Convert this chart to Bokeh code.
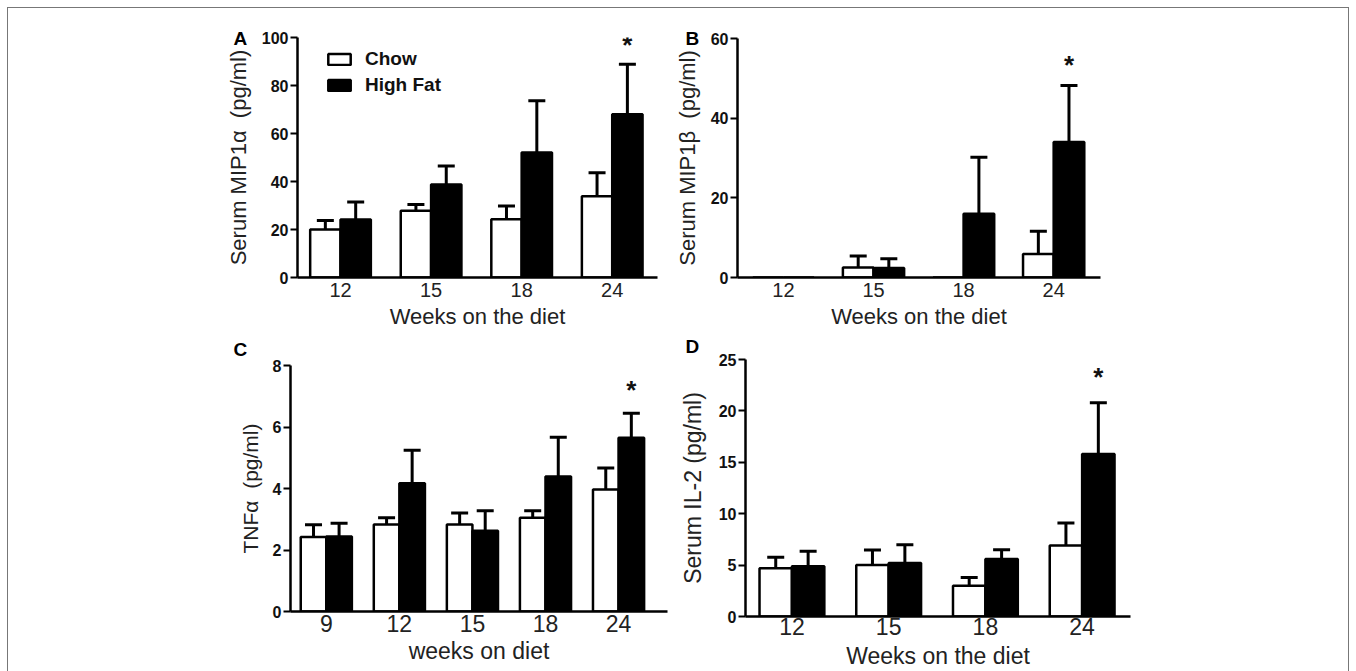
from bokeh.plotting import figure
from bokeh.layouts import row, column
from bokeh.models import FixedTicker, Label, Legend, LegendItem, Range1d, Title
from bokeh.embed import file_html
from bokeh.resources import INLINE

FONT = "Liberation Sans"

# ---------------- data ----------------
# Panel A: serum MIP1alpha
a_weeks = ["12", "15", "18", "24"]
a_chow = [20.0, 27.8, 24.3, 33.9]
a_chow_sem = [3.8, 2.6, 5.5, 9.7]
a_hf = [24.2, 38.7, 52.1, 68.0]
a_hf_sem = [7.3, 7.8, 21.5, 20.9]
a_yticks = [0, 20, 40, 60, 80, 100]
a_star = 96.8

# Panel B: serum MIP1beta
b_weeks = ["12", "15", "18", "24"]
b_chow = [0.0, 2.5, 0.0, 5.9]
b_chow_sem = [0.0, 2.9, 0.0, 5.7]
b_hf = [0.0, 2.4, 16.0, 34.0]
b_hf_sem = [0.0, 2.3, 14.2, 14.2]
b_yticks = [0, 20, 40, 60]
b_star = 53.3

# Panel C: TNFalpha
c_weeks = ["9", "12", "15", "18", "24"]
c_chow = [2.42, 2.83, 2.83, 3.05, 3.97]
c_chow_sem = [0.40, 0.22, 0.37, 0.23, 0.70]
c_hf = [2.44, 4.17, 2.63, 4.39, 5.65]
c_hf_sem = [0.43, 1.07, 0.65, 1.28, 0.80]
c_yticks = [0, 2, 4, 6, 8]
c_star = 7.2

# Panel D: serum IL-2
d_weeks = ["12", "15", "18", "24"]
d_chow = [4.7, 5.0, 3.0, 6.9]
d_chow_sem = [1.06, 1.48, 0.8, 2.2]
d_hf = [4.9, 5.2, 5.6, 15.8]
d_hf_sem = [1.44, 1.77, 0.9, 5.0]
d_yticks = [0, 5, 10, 15, 20, 25]
d_star = 23.3


def panel(weeks, chow, chow_sem, hf, hf_sem, yticks, star_y, ylabel, xlabel, letter,
          width, height, mbl, mbr, mbt, mbb, xr, bar_w, letter_offset, letter_standoff,
          letter_valign, xtick_size, xlabel_size, ylabel_size, ytick_size="16px",
          ylab_standoff=8, xtick_standoff=3, xlab_standoff=3, legend=False):
    p = figure(width=width, height=height, output_backend="svg", toolbar_location=None,
               min_border_left=mbl, min_border_right=mbr, min_border_top=mbt,
               min_border_bottom=mbb, x_range=Range1d(xr[0], xr[1]),
               y_range=Range1d(0, yticks[-1]))
    p.outline_line_color = None
    p.xgrid.visible = False
    p.ygrid.visible = False
    p.background_fill_color = "white"
    p.border_fill_color = "white"

    n = len(weeks)
    idx = list(range(n))
    off = bar_w / 2
    frame_w = width - mbl - mbr
    ppu = frame_w / (xr[1] - xr[0])
    cap = 8.5 / ppu

    xc = [i - off for i in idx]
    xh = [i + off for i in idx]
    r_chow = p.vbar(x=xc, top=chow, width=bar_w, bottom=0, fill_color="white",
                    line_color="black", line_width=2.5)
    r_hf = p.vbar(x=xh, top=hf, width=bar_w, bottom=0, fill_color="black",
                  line_color="black", line_width=2.5)

    for xs, means, sems in ((xc, chow, chow_sem), (xh, hf, hf_sem)):
        ex = [x for x, s in zip(xs, sems) if s > 0]
        em = [m for m, s in zip(means, sems) if s > 0]
        eu = [m + s for m, s in zip(means, sems) if s > 0]
        p.segment(x0=ex, y0=em, x1=ex, y1=eu, line_color="black", line_width=3)
        p.segment(x0=[x - cap for x in ex], y0=eu, x1=[x + cap for x in ex], y1=eu,
                  line_color="black", line_width=3)

    # y axis
    ya = p.yaxis[0]
    ya.ticker = FixedTicker(ticks=yticks)
    ya.axis_line_width = 2.5
    ya.axis_line_color = "black"
    ya.major_tick_line_width = 2
    ya.major_tick_line_color = "black"
    ya.major_tick_out = 7
    ya.major_tick_in = 0
    ya.minor_tick_line_color = None
    ya.major_label_standoff = 2
    ya.major_label_text_font = FONT
    ya.major_label_text_font_style = "bold"
    ya.major_label_text_font_size = ytick_size
    ya.major_label_text_color = "#111111"
    ya.axis_label = ylabel
    ya.axis_label_text_font = FONT
    ya.axis_label_text_font_style = "normal"
    ya.axis_label_text_font_size = ylabel_size
    ya.axis_label_text_color = "#222222"
    ya.axis_label_standoff = ylab_standoff

    # x axis
    xa = p.xaxis[0]
    xa.ticker = FixedTicker(ticks=idx)
    xa.major_label_overrides = {i: w for i, w in zip(idx, weeks)}
    xa.axis_line_width = 2.5
    xa.axis_line_color = "black"
    xa.major_tick_line_color = None
    xa.major_tick_out = 0
    xa.major_tick_in = 0
    xa.minor_tick_line_color = None
    xa.major_label_standoff = xtick_standoff
    xa.major_label_text_font = FONT
    xa.major_label_text_font_size = xtick_size
    xa.major_label_text_color = "#222222"
    xa.axis_label = xlabel
    xa.axis_label_text_font = FONT
    xa.axis_label_text_font_style = "normal"
    xa.axis_label_text_font_size = xlabel_size
    xa.axis_label_text_color = "#222222"
    xa.axis_label_standoff = xlab_standoff

    # significance star
    p.add_layout(Label(x=n - 1 + off, y=star_y, text="*", text_font=FONT,
                       text_font_style="bold", text_font_size="26px",
                       text_align="center", text_baseline="alphabetic",
                       text_color="#111111"))
    # panel letter as a title placed left of the frame
    p.add_layout(Title(text=letter, align="left", offset=letter_offset,
                       standoff=letter_standoff, vertical_align=letter_valign,
                       text_font=FONT, text_font_style="bold", text_font_size="19px",
                       text_color="black"), "above")

    if legend:
        lg = Legend(items=[LegendItem(label="Chow", renderers=[r_chow]),
                           LegendItem(label="High Fat", renderers=[r_hf])],
                    location=(28, 181), padding=0, margin=0, spacing=4,
                    glyph_width=28, glyph_height=14, label_height=14,
                    label_standoff=12, border_line_color=None,
                    background_fill_alpha=0,
                    label_text_font=FONT, label_text_font_style="bold",
                    label_text_font_size="19px", label_text_color="#111111")
        p.add_layout(lg)
    return p


NB = "\u00a0"

pA = panel(a_weeks, a_chow, a_chow_sem, a_hf, a_hf_sem, a_yticks, a_star,
           "Serum MIP1\u03b1" + NB + NB + "(pg/ml)", "Weeks on the diet", "A",
           width=662, height=326, mbl=289, mbr=13, mbt=29, mbb=57,
           xr=(-0.475, 3.5), bar_w=0.335, letter_offset=-64, letter_standoff=-22,
           letter_valign="bottom",
           xtick_size="20px", xlabel_size="22px", ylabel_size="22px",
           xtick_standoff=5, xlab_standoff=4, legend=True)

pB = panel(b_weeks, b_chow, b_chow_sem, b_hf, b_hf_sem, b_yticks, b_star,
           "Serum MIP1\u03b2" + NB + NB + "(pg/ml)", "Weeks on the diet", "B",
           width=678, height=326, mbl=67, mbr=248, mbt=30, mbb=57,
           xr=(-0.51, 3.52), bar_w=0.34, letter_offset=-52, letter_standoff=-21,
           letter_valign="bottom",
           xtick_size="20px", xlabel_size="22px", ylabel_size="22px",
           xtick_standoff=5, xlab_standoff=4)

pC = panel(c_weeks, c_chow, c_chow_sem, c_hf, c_hf_sem, c_yticks, c_star,
           "TNF\u03b1" + NB + NB + "(pg/ml)", "weeks on diet", "C",
           width=668, height=337, mbl=282, mbr=9, mbt=31, mbb=60,
           xr=(-0.49, 4.67), bar_w=0.35, letter_offset=-57, letter_standoff=8,
           letter_valign="top",
           xtick_size="23px", xlabel_size="23px", ylabel_size="21px",
           xtick_standoff=3, xlab_standoff=3)

pD = panel(d_weeks, d_chow, d_chow_sem, d_hf, d_hf_sem, d_yticks, d_star,
           "Serum IL-2 (pg/ml)", "Weeks on the diet", "D",
           width=672, height=337, mbl=69, mbr=218, mbt=25, mbb=55,
           xr=(-0.48, 3.5), bar_w=0.335, letter_offset=-60, letter_standoff=2,
           letter_valign="top",
           xtick_size="23px", xlabel_size="23px", ylabel_size="23px",
           ylab_standoff=10, xtick_standoff=1, xlab_standoff=5)

layout = column(row(column(pA), column(pB)), row(column(pC), column(pD)),
                styles={"outline": "1px solid #777777", "position": "absolute",
                        "top": "8px", "left": "8px"})

open("out.html", "w").write(file_html(layout, INLINE))
